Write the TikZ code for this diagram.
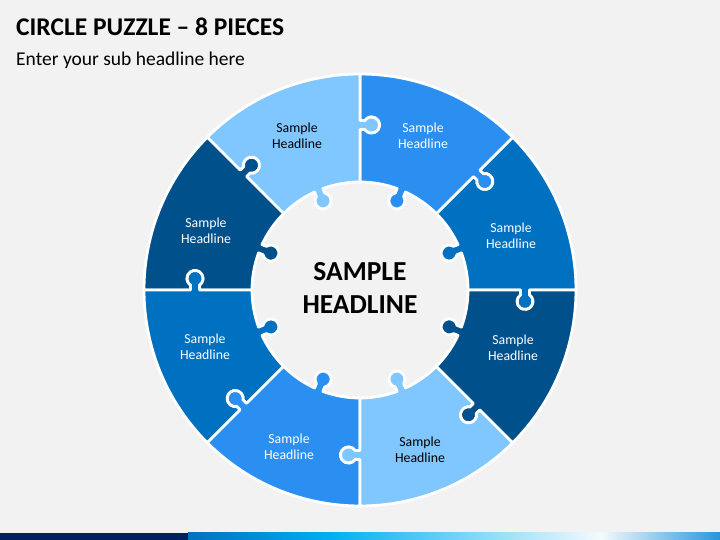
\documentclass[tikz,border=0pt]{standalone}
\usepackage{fontspec}
\setmainfont{Carlito}
\definecolor{bg}{RGB}{242,242,242}
\definecolor{pzlight}{RGB}{128,198,255}
\definecolor{pzmid}{RGB}{42,143,240}
\definecolor{pzblue}{RGB}{0,112,192}
\definecolor{pzdark}{RGB}{0,80,140}
\definecolor{barnavy}{RGB}{0,32,96}
\definecolor{barcyan}{RGB}{0,176,240}
\definecolor{barwhite}{RGB}{245,250,253}
\definecolor{barend}{RGB}{40,150,220}
\tikzset{
  piece/.style={draw=white, line width=2.8pt, line join=round},
  lbl/.style={align=center, font=\fontsize{13.8}{16}\selectfont, inner sep=0pt},
}
\newcommand{\puzzlepiece}[2]{%
  \begin{scope}[shift={(360,250)},rotate=#1]
    \filldraw[piece, fill=#2] (108,0) -- (160.5,0) -- (160.5,-4.886)
      arc[start angle=124.23,end angle=415.77,radius=8] -- (169.5,0) -- (216,0)
      arc[start angle=0,end angle=45,radius=216]
      -- ([rotate=45]169.5,0) -- ([rotate=45]169.5,-4.886)
      arc[start angle=100.77,end angle=-190.77,radius=8]
      -- ([rotate=45]160.5,0) -- ([rotate=45]108,0)
      arc[start angle=45,end angle=24.888,radius=108]
      -- ([rotate=22.5]103.114,4.5)
      arc[start angle=56.73,end angle=348.27,radius=8]
      -- ([rotate=22.5]107.906,-4.5)
      arc[start angle=20.112,end angle=0,radius=108] -- cycle;
  \end{scope}}
\begin{document}
\begin{tikzpicture}[x=1pt,y=1pt]
\useasboundingbox (0,0) rectangle (720,540);
\fill[bg] (0,0) rectangle (720,540);
% title
\node[anchor=base west, inner sep=0pt, font=\fontsize{25.5}{30}\selectfont\bfseries] (title) at (16,504) {CIRCLE PUZZLE – 8 PIECES};
\node[anchor=base west, inner sep=0pt, font=\fontsize{19.5}{23}\selectfont] (sub) at (16,474) {Enter your sub headline here};
% pieces
\puzzlepiece{0}{pzblue}
\puzzlepiece{45}{pzmid}
\puzzlepiece{90}{pzlight}
\puzzlepiece{135}{pzdark}
\puzzlepiece{180}{pzblue}
\puzzlepiece{225}{pzmid}
\puzzlepiece{270}{pzlight}
\puzzlepiece{315}{pzdark}
% labels
\node[lbl, text=black] (p1) at (297,404) {Sample\\Headline};
\node[lbl, text=white] (p2) at (423,404) {Sample\\Headline};
\node[lbl, text=white] (p3) at (511,304) {Sample\\Headline};
\node[lbl, text=white] (p4) at (513,192) {Sample\\Headline};
\node[lbl, text=black] (p5) at (420,90) {Sample\\Headline};
\node[lbl, text=white] (p6) at (289,93) {Sample\\Headline};
\node[lbl, text=white] (p7) at (205,193) {Sample\\Headline};
\node[lbl, text=white] (p8) at (206,309) {Sample\\Headline};
\node[align=center, inner sep=0pt, font=\fontsize{27.5}{33}\selectfont\bfseries] (center) at (360,252) {SAMPLE\\HEADLINE};
% bottom bar
\fill[barnavy] (0,0) rectangle (188.5,7);
\shade[left color=pzblue, right color=barcyan] (188,0) rectangle (330.5,7);
\shade[left color=barcyan, right color=barwhite] (330,0) rectangle (600.5,7);
\shade[left color=barwhite, right color=barend] (600,0) rectangle (720,7);
\end{tikzpicture}
\end{document}
